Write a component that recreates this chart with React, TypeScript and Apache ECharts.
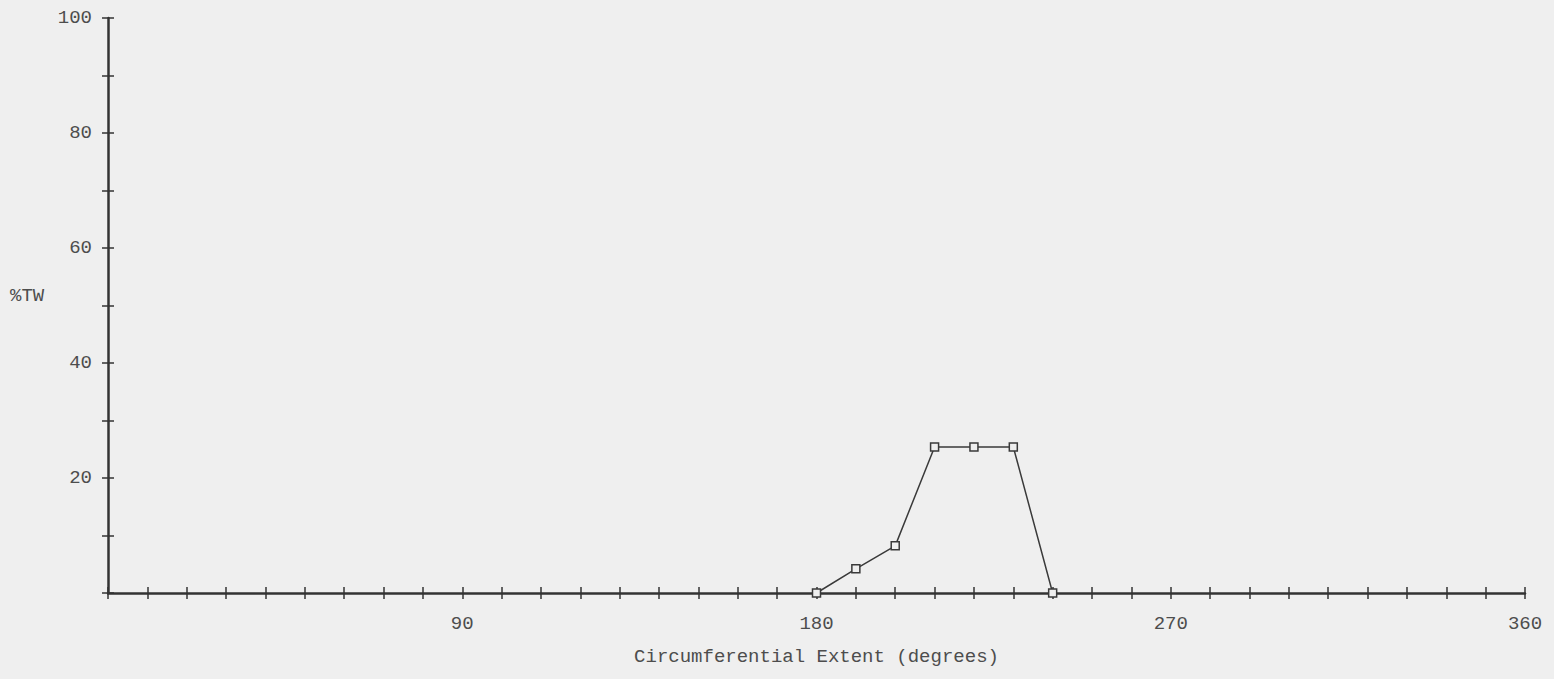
import React, { useEffect, useRef } from "react";
import * as echarts from "echarts";

const xValues = [180, 190, 200, 210, 220, 230, 240];
const yValues = [0, 4.2, 8.2, 25.4, 25.4, 25.4, 0];
const xLabelValues = [90, 180, 270, 360];
const yLabelValues = [20, 40, 60, 80, 100];
const xTitle = "Circumferential Extent (degrees)";
const yTitle = "%TW";

const BG = "#efefef";
const INK = "#333333";
const TEXT = "#4d4d4d";
const FONT = "'Liberation Mono', 'DejaVu Sans Mono', monospace";

export default function App() {
  const ref = useRef<HTMLDivElement>(null);
  useEffect(() => {
    if (!ref.current) return;
    const chart = echarts.init(ref.current, undefined, { renderer: "svg" });
    const tickCommon = { show: true, length: 6, lineStyle: { color: INK, width: 1.5 } };
    chart.setOption({
      animation: false,
      backgroundColor: BG,
      grid: { left: 108, right: 29, top: 18, bottom: 86 },
      graphic: [
        {
          type: "text",
          left: 10,
          top: 286,
          style: { text: yTitle, font: `19px ${FONT}`, fill: TEXT },
        },
      ],
      xAxis: [
        {
          type: "value",
          min: 0,
          max: 360,
          interval: 10,
          axisLine: { show: true, onZero: false, lineStyle: { color: INK, width: 2.5 } },
          axisTick: { ...tickCommon, inside: false },
          splitLine: { show: false },
          axisLabel: {
            margin: 21,
            color: TEXT,
            fontFamily: FONT,
            fontSize: 19,
            formatter: (v: number) => (xLabelValues.includes(v) ? String(v) : ""),
          },
          name: xTitle,
          nameLocation: "middle",
          nameGap: 54,
          nameTextStyle: { color: TEXT, fontFamily: FONT, fontSize: 19 },
        },
        {
          type: "value",
          min: 0,
          max: 360,
          interval: 10,
          position: "bottom",
          axisLine: { show: false, onZero: false },
          axisTick: { ...tickCommon, inside: true },
          splitLine: { show: false },
          axisLabel: { show: false },
        },
      ],
      yAxis: [
        {
          type: "value",
          min: 0,
          max: 100,
          interval: 10,
          axisLine: { show: true, onZero: false, lineStyle: { color: INK, width: 2.5 } },
          axisTick: { ...tickCommon, inside: false },
          splitLine: { show: false },
          axisLabel: {
            margin: 16,
            color: TEXT,
            fontFamily: FONT,
            fontSize: 19,
            formatter: (v: number) => (yLabelValues.includes(v) ? String(v) : ""),
          },
        },
        {
          type: "value",
          min: 0,
          max: 100,
          interval: 10,
          position: "left",
          axisLine: { show: false, onZero: false },
          axisTick: { ...tickCommon, inside: true },
          splitLine: { show: false },
          axisLabel: { show: false },
        },
      ],
      series: [
        {
          type: "line",
          xAxisIndex: 0,
          yAxisIndex: 0,
          data: xValues.map((x, i) => [x, yValues[i]]),
          lineStyle: { color: "#3a3a3a", width: 1.5 },
          symbol: "rect",
          symbolSize: 8,
          itemStyle: { color: BG, borderColor: "#3a3a3a", borderWidth: 1.5 },
          z: 5,
        },
      ],
    });
    return () => chart.dispose();
  }, []);
  return (
    <div
      ref={ref}
      style={{ position: "fixed", left: 0, top: 0, width: 1554, height: 679 }}
    />
  );
}
